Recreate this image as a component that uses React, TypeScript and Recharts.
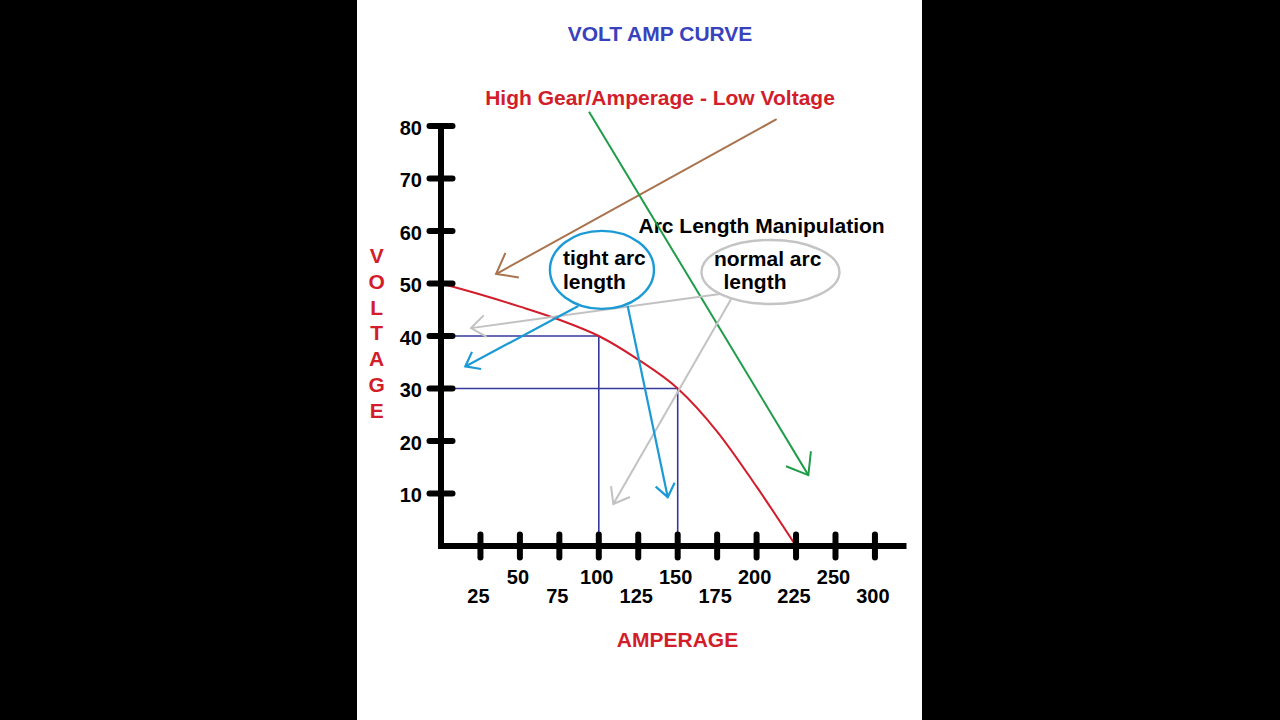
import React from 'react';
import {
  LineChart,
  Line,
  XAxis,
  YAxis,
  ReferenceLine,
  ReferenceDot,
  Customized,
} from 'recharts';

// Volt-amp characteristic of the welding machine
const amperage = [0, 25, 50, 75, 100, 125, 150, 175, 200, 225];
const voltage = [50, 47.9, 45.6, 43.1, 40, 35.5, 30, 21.8, 11.3, 0];

const xTicks = [25, 50, 75, 100, 125, 150, 175, 200, 225, 250, 275];
const xTickLabels = ['25', '50', '75', '100', '125', '150', '175', '200', '225', '250', '300'];
const yTicks = [10, 20, 30, 40, 50, 60, 70, 80];

// Operating points marked on the curve
const pointAmps = [100, 150];
const pointVolts = [40, 30];

// Annotation arrows, in amps / volts: start and tip
const arrowNames = ['gear', 'slope', 'normalUpper', 'normalLower', 'tightUpper', 'tightLower'];
const arrowFrom = [
  [212.7, 81.3],
  [93.8, 82.7],
  [176.8, 48.0],
  [183.8, 47.0],
  [87.0, 45.7],
  [118.3, 45.7],
];
const arrowTo = [
  [34.9, 51.8],
  [232.8, 13.5],
  [19.0, 41.5],
  [109.2, 8.0],
  [15.4, 34.2],
  [143.7, 9.3],
];

// Speech bubbles for arc length
const bubbleNames = ['tight', 'normal'];
const bubbleLines = [
  ['tight arc', 'length'],
  ['normal arc', 'length'],
];
const bubbleCenters = [
  [102.0, 52.6],
  [208.8, 52.2],
];

const curveData = amperage.map((a, i) => ({ a, v: voltage[i] }));

const FONT = '"Liberation Sans", Arial, Helvetica, sans-serif';
const RED = '#d21d2b';
const NAVY = '#35399a';
const TITLE_BLUE = '#3942bd';

const arrowStyle: Record<string, { color: string; head: number; width: number }> = {
  gear: { color: '#a9734e', head: 23, width: 2 },
  slope: { color: '#1f9c48', head: 24, width: 2 },
  normalUpper: { color: '#c2c2c2', head: 18, width: 2 },
  normalLower: { color: '#c2c2c2', head: 18, width: 2 },
  tightUpper: { color: '#1b9ad6', head: 16, width: 2.2 },
  tightLower: { color: '#1b9ad6', head: 16, width: 2.2 },
};

const bubbleStyle: Record<
  string,
  { color: string; rx: number; ry: number; textX: number[]; base: number[] }
> = {
  tight: { color: '#1b9ad6', rx: 52, ry: 39, textX: [-39, -39], base: [-5, 19] },
  normal: { color: '#c4c4c4', rx: 69, ry: 32, textX: [-56.5, -47], base: [-6, 17] },
};

const arrowShape = (name: string) => (p: any) => {
  const { x1, y1, x2, y2 } = p;
  const s = arrowStyle[name];
  const ang = Math.atan2(y1 - y2, x1 - x2);
  const spread = 0.65;
  const b1x = x2 + s.head * Math.cos(ang + spread);
  const b1y = y2 + s.head * Math.sin(ang + spread);
  const b2x = x2 + s.head * Math.cos(ang - spread);
  const b2y = y2 + s.head * Math.sin(ang - spread);
  return (
    <g>
      <line x1={x1} y1={y1} x2={x2} y2={y2} stroke={s.color} strokeWidth={s.width} />
      <polyline
        points={`${b1x},${b1y} ${x2},${y2} ${b2x},${b2y}`}
        fill="none"
        stroke={s.color}
        strokeWidth={s.width}
        strokeLinejoin="miter"
      />
    </g>
  );
};

const bubbleShape = (idx: number) => (p: any) => {
  const { cx, cy } = p;
  const s = bubbleStyle[bubbleNames[idx]];
  return (
    <g>
      <ellipse cx={cx} cy={cy} rx={s.rx} ry={s.ry} fill="none" stroke={s.color} strokeWidth={2.4} />
      {bubbleLines[idx].map((t, i) => (
        <text
          key={t}
          x={cx + s.textX[i]}
          y={cy + s.base[i]}
          fontFamily={FONT}
          fontWeight="bold"
          fontSize={21}
          fill="#000"
        >
          {t}
        </text>
      ))}
    </g>
  );
};

const XTick = (props: any) => {
  const { x, y, payload } = props;
  const idx = xTicks.indexOf(payload.value);
  const upper = idx % 2 === 1;
  return (
    <g>
      <line x1={x} y1={y - 11.5} x2={x} y2={y + 11.5} stroke="#000" strokeWidth={6} strokeLinecap="round" />
      <text
        x={x - 2}
        y={y + (upper ? 38 : 57)}
        textAnchor="middle"
        fontFamily={FONT}
        fontWeight="bold"
        fontSize={20}
        fill="#000"
      >
        {xTickLabels[idx]}
      </text>
    </g>
  );
};

const YTick = (props: any) => {
  const { x, y, payload } = props;
  return (
    <g>
      <line x1={x - 11.5} y1={y} x2={x + 11.5} y2={y} stroke="#000" strokeWidth={6} strokeLinecap="round" />
      <text
        x={x - 19}
        y={y + 8.5}
        textAnchor="end"
        fontFamily={FONT}
        fontWeight="bold"
        fontSize={20}
        fill="#000"
      >
        {payload.value}
      </text>
    </g>
  );
};

const axisTitleLetters = 'VOLTAGE'.split('');

const Captions = () => (
  <g fontFamily={FONT} fontWeight="bold" fontSize={21}>
    <text x={303} y={41} textAnchor="middle" fill={TITLE_BLUE}>
      VOLT AMP CURVE
    </text>
    <text x={303} y={105} textAnchor="middle" fill={RED}>
      High Gear/Amperage - Low Voltage
    </text>
    <text x={281.5} y={233} fill="#000">
      Arc Length Manipulation
    </text>
    <text x={320.5} y={647} textAnchor="middle" fill={RED}>
      AMPERAGE
    </text>
    {axisTitleLetters.map((ch, i) => (
      <text key={i} x={19.7} y={263 + i * 25.75} textAnchor="middle" fill={RED}>
        {ch}
      </text>
    ))}
  </g>
);

export default function App() {
  return (
    <div
      style={{
        position: 'absolute',
        left: 0,
        top: 0,
        width: 1280,
        height: 720,
        background: '#000',
        overflow: 'hidden',
      }}
    >
      <div style={{ position: 'absolute', left: 357, top: 0, width: 565, height: 720, background: '#fff' }}>
        <LineChart
          width={565}
          height={720}
          data={curveData}
          margin={{ top: 126, right: 15.5, bottom: 114, left: 24 }}
        >
          <XAxis
            type="number"
            dataKey="a"
            domain={[0, 295]}
            ticks={xTicks}
            interval={0}
            height={60}
            axisLine={{ stroke: '#000', strokeWidth: 6 }}
            tickLine={false}
            tickSize={0}
            tickMargin={0}
            tick={(p: any) => <XTick {...p} />}
          />
          <YAxis
            type="number"
            domain={[0, 80]}
            ticks={yTicks}
            interval={0}
            width={60}
            axisLine={{ stroke: '#000', strokeWidth: 6, strokeLinecap: 'square' }}
            tickLine={false}
            tickSize={0}
            tickMargin={0}
            tick={(p: any) => <YTick {...p} />}
          />
          {pointAmps.map((a, i) => (
            <ReferenceLine
              key={`h${a}`}
              segment={[
                { x: 0, y: pointVolts[i] },
                { x: a, y: pointVolts[i] },
              ]}
              stroke={NAVY}
              strokeWidth={1.6}
              ifOverflow="visible"
            />
          ))}
          {pointAmps.map((a, i) => (
            <ReferenceLine
              key={`v${a}`}
              segment={[
                { x: a, y: pointVolts[i] },
                { x: a, y: 0 },
              ]}
              stroke={NAVY}
              strokeWidth={1.6}
              ifOverflow="visible"
            />
          ))}
          <Line
            dataKey="v"
            type="monotone"
            stroke={RED}
            strokeWidth={2}
            dot={false}
            isAnimationActive={false}
          />
          {arrowNames.map((n, i) => (
            <ReferenceLine
              key={n}
              segment={[
                { x: arrowFrom[i][0], y: arrowFrom[i][1] },
                { x: arrowTo[i][0], y: arrowTo[i][1] },
              ]}
              ifOverflow="visible"
              shape={arrowShape(n)}
            />
          ))}
          {bubbleNames.map((n, i) => (
            <ReferenceDot
              key={n}
              x={bubbleCenters[i][0]}
              y={bubbleCenters[i][1]}
              r={1}
              ifOverflow="visible"
              shape={bubbleShape(i)}
            />
          ))}
          <Customized component={Captions} />
        </LineChart>
      </div>
    </div>
  );
}
